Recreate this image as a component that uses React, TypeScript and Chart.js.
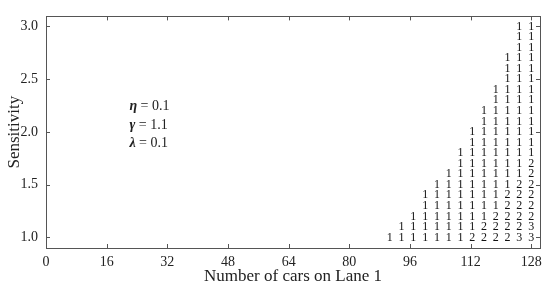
import React, { useEffect, useRef } from "react";
import { Chart, registerables } from "chart.js";

Chart.register(...registerables);

// ---- data ----
const xTicks = [0, 16, 32, 48, 64, 80, 96, 112, 128];
const yTicks = [1.0, 1.5, 2.0, 2.5, 3.0];
const sensitivityLevels = [
  1.0, 1.1, 1.2, 1.3, 1.4, 1.5, 1.6, 1.7, 1.8, 1.9, 2.0,
  2.1, 2.2, 2.3, 2.4, 2.5, 2.6, 2.7, 2.8, 2.9, 3.0,
];
const carCounts = [90.7, 93.8, 96.9, 100.0, 103.1, 106.2, 109.3, 112.4, 115.5, 118.6, 121.7, 124.8, 128.0];
// lane digit at each sensitivity level (from 1.0 upward) for each car count
const laneColumns = [
  "1",
  "11",
  "111",
  "11111",
  "111111",
  "1111111",
  "111111111",
  "21111111111",
  "2211111111111",
  "222111111111111",
  "222221111111111111",
  "322222111111111111111",
  "332222221111111111111",
];
const laneLabels = ["1", "2", "3"];
const paramSymbols = ["η", "γ", "λ"];
const paramValues = ["0.1", "1.1", "0.1"];
const paramX = 22;
const paramY = [2.24, 2.065, 1.89];
const xTitle = "Number of cars on Lane 1";
const yTitle = "Sensitivity";

const FONT = "'Liberation Serif', 'DejaVu Serif', serif";
const TEXT = "#222";
const FRAME = "#555";

function buildDatasets() {
  return laneLabels.map((lane) => {
    const pts: { x: number; y: number }[] = [];
    laneColumns.forEach((col, c) => {
      for (let i = 0; i < col.length; i++) {
        if (col[i] === lane) pts.push({ x: carCounts[c], y: sensitivityLevels[i] });
      }
    });
    return {
      label: lane,
      data: pts,
      pointRadius: 0,
      pointHoverRadius: 0,
      showLine: false,
    };
  });
}

const drawPlugin = {
  id: "customDraw",
  afterDatasetsDraw(chart: any) {
    const ctx = chart.ctx;
    ctx.save();
    ctx.fillStyle = "#111";
    ctx.font = `12px ${FONT}`;
    ctx.textAlign = "center";
    ctx.textBaseline = "middle";
    chart.data.datasets.forEach((ds: any, i: number) => {
      const meta = chart.getDatasetMeta(i);
      meta.data.forEach((el: any) => {
        ctx.fillText(ds.label, el.x, el.y);
      });
    });
    ctx.restore();
  },
  afterDraw(chart: any) {
    const ctx = chart.ctx;
    const a = chart.chartArea;
    const xs = chart.scales.x;
    const ys = chart.scales.y;
    ctx.save();
    // frame
    ctx.strokeStyle = FRAME;
    ctx.lineWidth = 1;
    ctx.strokeRect(Math.round(a.left) + 0.5, Math.round(a.top) + 0.5, Math.round(a.right - a.left), Math.round(a.bottom - a.top));
    // inward ticks
    const tl = 4;
    ctx.beginPath();
    xTicks.forEach((v) => {
      const px = Math.round(xs.getPixelForValue(v)) + 0.5;
      ctx.moveTo(px, a.bottom);
      ctx.lineTo(px, a.bottom - tl);
      ctx.moveTo(px, a.top);
      ctx.lineTo(px, a.top + tl);
    });
    yTicks.forEach((v) => {
      const py = Math.round(ys.getPixelForValue(v)) + 0.5;
      ctx.moveTo(a.left, py);
      ctx.lineTo(a.left + tl, py);
      ctx.moveTo(a.right, py);
      ctx.lineTo(a.right - tl, py);
    });
    ctx.stroke();

    // axis titles
    ctx.fillStyle = TEXT;
    ctx.font = `17px ${FONT}`;
    ctx.textAlign = "center";
    ctx.textBaseline = "middle";
    ctx.fillText(xTitle, (a.left + a.right) / 2, 277);
    ctx.save();
    ctx.translate(15, (a.top + a.bottom) / 2);
    ctx.rotate(-Math.PI / 2);
    ctx.fillText(yTitle, 0, 0);
    ctx.restore();

    // parameter annotations
    ctx.textAlign = "left";
    paramSymbols.forEach((s, i) => {
      const px = xs.getPixelForValue(paramX);
      const py = ys.getPixelForValue(paramY[i]);
      ctx.font = `italic bold 14px ${FONT}`;
      ctx.fillText(s, px, py);
      const w = ctx.measureText(s).width;
      ctx.font = `14px ${FONT}`;
      ctx.fillText(" = " + paramValues[i], px + w, py);
    });
    ctx.restore();
  },
};

export default function App() {
  const ref = useRef<HTMLCanvasElement | null>(null);
  useEffect(() => {
    document.body.style.margin = "0";
    if (!ref.current) return;
    const chart = new Chart(ref.current, {
      type: "scatter",
      data: { datasets: buildDatasets() as any },
      plugins: [drawPlugin],
      options: {
        animation: false,
        responsive: true,
        maintainAspectRatio: false,
        layout: { padding: { left: 0, right: 10, top: 10, bottom: 0 } },
        plugins: { legend: { display: false }, tooltip: { enabled: false } },
        scales: {
          x: {
            type: "linear",
            min: 0,
            max: 130.3,
            grid: { display: false, drawTicks: false },
            border: { display: false },
            afterBuildTicks: (s: any) => {
              s.ticks = xTicks.map((v) => ({ value: v }));
            },
            afterFit: (s: any) => {
              s.height = 42;
            },
            ticks: {
              padding: 6,
              color: TEXT,
              font: { family: FONT, size: 14 },
              callback: (v: any) => String(v),
              maxRotation: 0,
              autoSkip: false,
            },
          },
          y: {
            type: "linear",
            min: 0.9,
            max: 3.095,
            grid: { display: false, drawTicks: false },
            border: { display: false },
            afterBuildTicks: (s: any) => {
              s.ticks = yTicks.map((v) => ({ value: v }));
            },
            afterFit: (s: any) => {
              s.width = 46;
            },
            ticks: {
              padding: 8,
              color: TEXT,
              font: { family: FONT, size: 14 },
              callback: (v: any) => Number(v).toFixed(1),
              autoSkip: false,
            },
          },
        },
      },
    });
    return () => chart.destroy();
  }, []);
  return (
    <div style={{ position: "fixed", left: 0, top: 0, width: 550, height: 290, background: "#fff" }}>
      <canvas ref={ref} />
    </div>
  );
}
